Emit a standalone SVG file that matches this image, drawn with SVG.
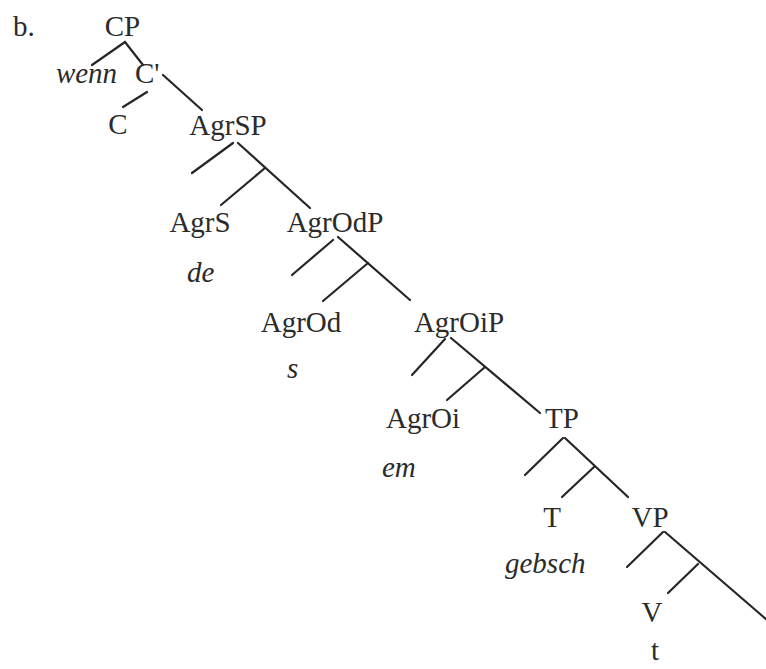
<svg xmlns="http://www.w3.org/2000/svg" width="766" height="669" viewBox="0 0 766 669">
<style>
text{font-family:"Liberation Serif","Times New Roman",serif;font-size:29px;fill:#2b2b2b}
.i{font-style:italic}
.m{text-anchor:middle}
#connectors line{stroke:#262626;stroke-width:2.2;stroke-linecap:round}
</style>
<rect width="766" height="669" fill="#ffffff"/>
<text x="13" y="36">b.</text>
<g id="connectors">
<line x1="125" y1="42" x2="92" y2="65"/>
<line x1="125" y1="42" x2="143" y2="65"/>
<line x1="163" y1="75" x2="202" y2="110"/>
<line x1="147" y1="92" x2="123" y2="107"/>
<line x1="233" y1="143" x2="192" y2="173"/>
<line x1="238" y1="143" x2="310" y2="208"/>
<line x1="265" y1="168" x2="221" y2="205"/>
<line x1="333" y1="240" x2="292" y2="275"/>
<line x1="338" y1="237" x2="410" y2="300"/>
<line x1="368" y1="263" x2="323" y2="301"/>
<line x1="445" y1="339" x2="412" y2="375"/>
<line x1="451" y1="338" x2="540" y2="413"/>
<line x1="485" y1="367" x2="447" y2="400"/>
<line x1="563" y1="438" x2="525" y2="475"/>
<line x1="565" y1="438" x2="628" y2="497"/>
<line x1="594" y1="467" x2="562" y2="497"/>
<line x1="663" y1="532" x2="627" y2="567"/>
<line x1="665" y1="532" x2="767" y2="620"/>
<line x1="698" y1="564" x2="668" y2="593"/>
</g>
<g id="CP"><text class="m" x="122.5" y="36">CP</text></g>
<g id="wenn"><text class="i m" x="86.5" y="83">wenn</text></g>
<g id="Cbar"><text x="135" y="83">C'</text></g>
<g id="C"><text class="m" x="118" y="134">C</text></g>
<g id="AgrSP"><text class="m" x="228" y="135">AgrSP</text></g>
<g id="AgrS"><text class="m" x="200" y="232">AgrS</text><text class="i" x="187" y="282">de</text></g>
<g id="AgrOdP"><text class="m" x="335" y="232">AgrOdP</text></g>
<g id="AgrOd"><text class="m" x="301" y="332">AgrOd</text><text class="i" x="287" y="378">s</text></g>
<g id="AgrOiP"><text class="m" x="459" y="332">AgrOiP</text></g>
<g id="AgrOi"><text class="m" x="423" y="428">AgrOi</text><text class="i" x="382" y="477">em</text></g>
<g id="TP"><text class="m" x="562" y="428">TP</text></g>
<g id="T"><text class="m" x="552" y="527">T</text><text class="i" x="505" y="573">gebsch</text></g>
<g id="VP"><text class="m" x="650" y="527">VP</text></g>
<g id="V"><text class="m" x="652" y="622">V</text><text class="m" x="655" y="660">t</text></g>
</svg>
